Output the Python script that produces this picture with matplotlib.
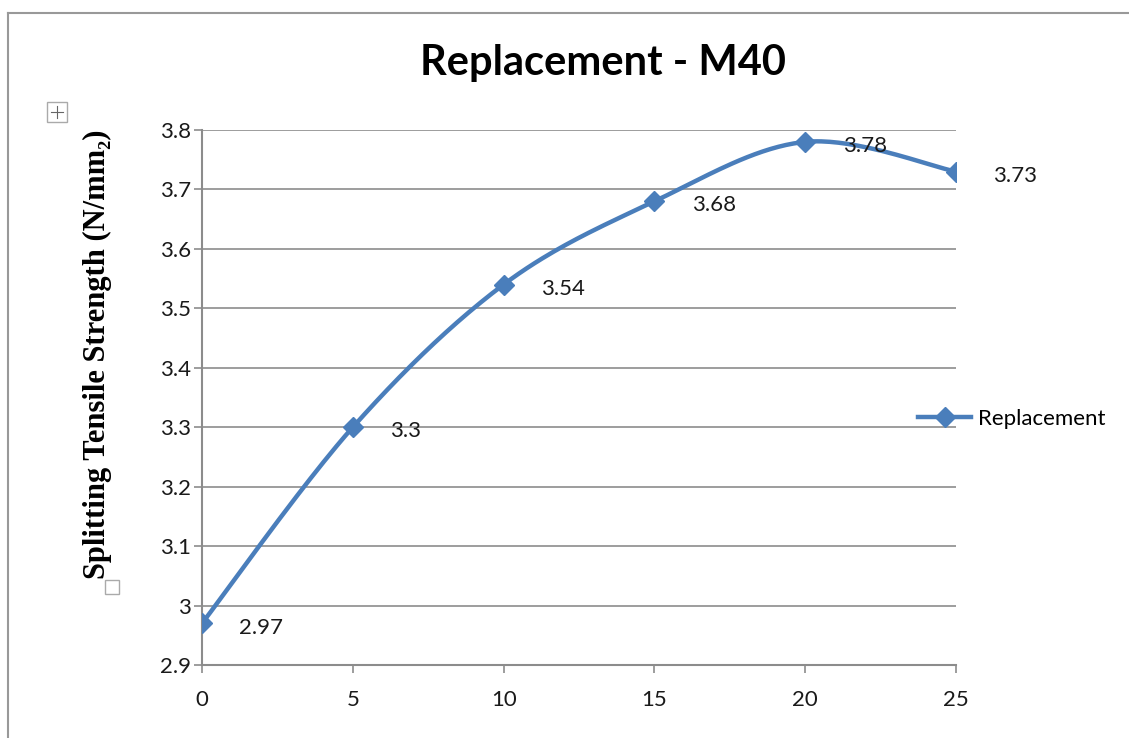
import numpy as np
import matplotlib
matplotlib.use("Agg")
import matplotlib.pyplot as plt
from matplotlib.lines import Line2D
from matplotlib.patches import Rectangle

# ---- data ----
replacement = [0, 5, 10, 15, 20, 25]
strength = [2.97, 3.3, 3.54, 3.68, 3.78, 3.73]
x_ticks = [0, 5, 10, 15, 20, 25]
y_ticks = [2.9, 3.0, 3.1, 3.2, 3.3, 3.4, 3.5, 3.6, 3.7, 3.8]
y_tick_labels = ["2.9", "3", "3.1", "3.2", "3.3", "3.4", "3.5", "3.6", "3.7", "3.8"]

blue = "#4A7EBB"
grid_gray = "#8c8c8c"
plt.rcParams["font.family"] = ["Lato", "DejaVu Sans"]


def smooth_curve(xs, ys, sx, sy, n=40):
    # Excel-like smoothed line: Catmull-Rom bezier in screen-ish space
    p = np.column_stack([np.asarray(xs, float) * sx, np.asarray(ys, float) * sy])
    pts = np.vstack([p[0], p, p[-1]])
    out = []
    t = np.linspace(0, 1, n)[:, None]
    for i in range(1, len(pts) - 2):
        p0, p1, p2, p3 = pts[i - 1], pts[i], pts[i + 1], pts[i + 2]
        c1 = p1 + (p2 - p0) / 6
        c2 = p2 - (p3 - p1) / 6
        seg = ((1 - t) ** 3) * p1 + 3 * ((1 - t) ** 2) * t * c1 + 3 * (1 - t) * t ** 2 * c2 + t ** 3 * p2
        out.append(seg if i == 1 else seg[1:])
    out = np.vstack(out)
    return out[:, 0] / sx, out[:, 1] / sy


fig = plt.figure(figsize=(11.29, 7.38), dpi=100)
ax = fig.add_axes([202 / 1129, 1 - 665 / 738, (956 - 202) / 1129, (665 - 130) / 738])

ax.set_xlim(0, 25)
ax.set_ylim(2.9, 3.8)

# smoothed line, scaled by pixel extents of the axes
cx, cy = smooth_curve(replacement, strength, 754 / 25, 535 / 0.9)
ax.plot(cx, cy, color=blue, lw=3.2, solid_capstyle="round", zorder=3)
ax.plot(replacement, strength, linestyle="none", marker="D", ms=10, color=blue, zorder=4)

for xv, yv in zip(replacement, strength):
    ax.annotate(f"{yv:g}", (xv, yv), xytext=(27, -3), textcoords="offset points",
                fontsize=16, color="#1a1a1a", va="center", ha="left")

ax.set_xticks(x_ticks)
ax.set_yticks(y_ticks)
ax.set_yticklabels(y_tick_labels)
ax.tick_params(axis="both", labelsize=16, colors="#1a1a1a", length=6, width=1.2)
ax.tick_params(axis="x", color=grid_gray, pad=12)
ax.tick_params(axis="y", color=grid_gray, pad=2)
ax.yaxis.grid(True, color=grid_gray, lw=1.2)
ax.set_axisbelow(True)
for side in ["top", "right"]:
    ax.spines[side].set_visible(False)
for side in ["left", "bottom"]:
    ax.spines[side].set_color(grid_gray)
    ax.spines[side].set_linewidth(1.5)

fig.text(603 / 1129, 1 - 63 / 738, "Replacement - M40", ha="center", va="center",
         fontsize=30, fontweight="bold")
fig.text(97 / 1129, 1 - 354 / 738, "Splitting Tensile Strength (N/mm\u2082)", rotation=90,
         ha="center", va="center", fontsize=22, fontweight="bold",
         family=["Liberation Serif", "DejaVu Serif"])

# legend
leg = ax.legend([Line2D([], [], color=blue, lw=3.2, marker="D", ms=10)], ["Replacement"],
                loc="center left", bbox_to_anchor=(918 / 1129, 1 - 419 / 738),
                bbox_transform=fig.transFigure, frameon=False, fontsize=16,
                handlelength=2.4, handletextpad=0.3, borderpad=0, borderaxespad=0)

# outer frame lines (top and left) and editor anchor boxes
fig.add_artist(Line2D([8 / 1129, 1], [1 - 13 / 738, 1 - 13 / 738], transform=fig.transFigure,
                      color="#999999", lw=1.5))
fig.add_artist(Line2D([8 / 1129, 8 / 1129], [0, 1 - 13 / 738], transform=fig.transFigure,
                      color="#999999", lw=1.5))
fig.add_artist(Rectangle((47 / 1129, 1 - 122 / 738), 20 / 1129, 20 / 738, transform=fig.transFigure,
                         fill=False, ec="#aaaaaa", lw=1))
fig.add_artist(Line2D([51 / 1129, 63 / 1129], [1 - 112 / 738] * 2, transform=fig.transFigure,
                      color="#666666", lw=0.8))
fig.add_artist(Line2D([57 / 1129] * 2, [1 - 106 / 738, 1 - 118 / 738], transform=fig.transFigure,
                      color="#666666", lw=0.8))
fig.add_artist(Rectangle((105 / 1129, 1 - 594 / 738), 14 / 1129, 14 / 738, transform=fig.transFigure,
                         fill=False, ec="#aaaaaa", lw=1))

fig.savefig("out.png", dpi=100)
